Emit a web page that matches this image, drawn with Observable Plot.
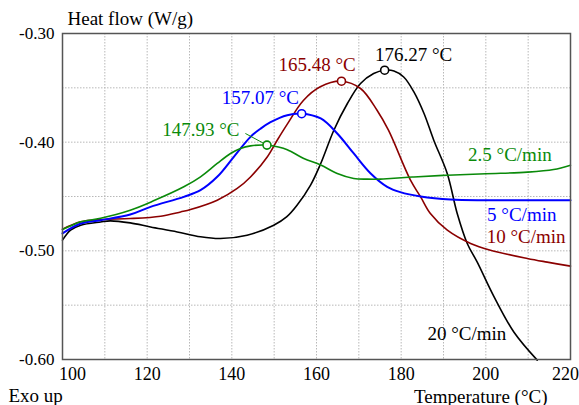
<!DOCTYPE html>
<html>
<head>
<meta charset="utf-8">
<script src="https://cdn.jsdelivr.net/npm/d3@7"></script>
<script src="https://cdn.jsdelivr.net/npm/@observablehq/plot@0.6"></script>
<style>
  html, body { margin: 0; padding: 0; background: white; }
</style>
</head>
<body>
<div id="chart"></div>
<script>
// ---- Data ----
const rateLabels = ["2.5 °C/min", "5 °C/min", "10 °C/min", "20 °C/min"];

const T_25 = [100, 102, 104.3, 109, 116, 121.5, 128.66, 132.6, 136.55, 139.69, 142.05, 144.41, 148.3, 151, 153.1, 157, 161, 164.9, 168.8, 172, 175.1, 177.5, 183, 190.9, 200, 209.8, 216, 220];
const V_25 = [-0.4804, -0.477, -0.4733, -0.470, -0.4626, -0.454, -0.4411, -0.4319, -0.4196, -0.4104, -0.4058, -0.4034, -0.4027, -0.4045, -0.407, -0.415, -0.421, -0.4288, -0.4334, -0.434, -0.434, -0.4334, -0.432, -0.4304, -0.429, -0.4276, -0.4252, -0.4212];

const T_5 = [100, 104.3, 109, 116, 120.79, 128.66, 132.6, 136.55, 140.47, 144.41, 146.78, 149.14, 153.09, 156.5, 161, 164.9, 168.8, 172.8, 176.7, 179.8, 184.6, 191.7, 200, 210, 220];
const V_5 = [-0.484, -0.4749, -0.4718, -0.4666, -0.4595, -0.4503, -0.4442, -0.4319, -0.4135, -0.3951, -0.3876, -0.3816, -0.3752, -0.3738, -0.3782, -0.392, -0.4104, -0.4288, -0.4411, -0.446, -0.450, -0.4528, -0.4534, -0.4534, -0.4534];

const T_10 = [100, 104.3, 109, 116, 123.2, 127.9, 130.24, 136.55, 141.27, 144.41, 148.36, 150.72, 153.1, 156.9, 160.9, 165.9, 170.4, 174.3, 177, 182.2, 184.6, 186.9, 190.9, 196.4, 201.1, 209.8, 214.5, 220];
const V_10 = [-0.480, -0.4733, -0.4712, -0.4703, -0.4681, -0.4642, -0.462, -0.4534, -0.4426, -0.432, -0.4136, -0.3982, -0.3834, -0.3616, -0.349, -0.3439, -0.3506, -0.3706, -0.389, -0.435, -0.4504, -0.4657, -0.481, -0.4932, -0.4994, -0.507, -0.5104, -0.5141];

const T_20 = [100, 101.9, 104.3, 109, 111.3, 116, 120.8, 127.1, 132.6, 137.3, 143.6, 149.9, 153, 155.4, 158.6, 161, 164.1, 167.3, 170.4, 173.5, 176.1, 178.3, 180.6, 183, 185.4, 187.7, 190.88, 193.24, 195.61, 197.97, 201.89, 206.61, 212.14];
const V_20 = [-0.4902, -0.481, -0.4764, -0.4734, -0.4724, -0.4743, -0.478, -0.4826, -0.4871, -0.4887, -0.4856, -0.4764, -0.4685, -0.458, -0.4395, -0.4196, -0.389, -0.3644, -0.346, -0.3368, -0.3338, -0.3345, -0.34, -0.3537, -0.3736, -0.3982, -0.4288, -0.4656, -0.4932, -0.5104, -0.5419, -0.5747, -0.6006];

// Peak annotations
const peakT = [148.3, 156.5, 165.9, 176.1];
const peakV = [-0.4027, -0.3738, -0.3439, -0.3338];
const peakLabels = ["147.93 °C", "157.07 °C", "165.48 °C", "176.27 °C"];
// label anchor points (data units)
const peakLabelT = [123.55, 137.6, 151.0, 173.8];
const peakLabelV = [-0.3945, -0.3651, -0.3347, -0.3255];
const rateLabelT = [195.8, 200.3, 200.2, 186.2];
const rateLabelV = [-0.4172, -0.4724, -0.4927, -0.5822];

// Ticks
const xTicks = [100, 120, 140, 160, 180, 200, 220];
const yTicks = [-0.30, -0.40, -0.50, -0.60];
const xGrid = [110, 120, 130, 140, 150, 160, 170, 180, 190, 200, 210];
const yGrid = [-0.35, -0.40, -0.45, -0.50, -0.55];

const colors = ["#0a8a0a", "#0000ff", "#8b0000", "#000000"];

// ---- Build tables ----
const seriesT = [T_25, T_5, T_10, T_20];
const seriesV = [V_25, V_5, V_10, V_20];
const tables = seriesT.map((T, s) => T.map((t, i) => ({t, v: seriesV[s][i]})));
const peaks = peakT.map((t, i) => ({t, v: peakV[i], label: peakLabels[i], lt: peakLabelT[i], lv: peakLabelV[i], c: colors[i]}));
const rates = rateLabels.map((label, i) => ({label, t: rateLabelT[i], v: rateLabelV[i], c: colors[i]}));

const order = [3, 2, 1, 0];

const chart = Plot.plot({
  width: 579,
  height: 405,
  marginLeft: 62,
  marginRight: 9,
  marginTop: 33,
  marginBottom: 46,
  style: {fontFamily: "'Liberation Serif', 'Times New Roman', serif", fontSize: "19px", background: "white", overflow: "visible"},
  x: {domain: [100, 220]},
  y: {domain: [-0.60, -0.30]},
  marks: [
    Plot.gridX(xGrid, {stroke: "#b8b8b8", strokeOpacity: 1, strokeDasharray: "1.5,1.5"}),
    Plot.gridY(yGrid, {stroke: "#b8b8b8", strokeOpacity: 1, strokeDasharray: "1.5,1.5"}),
    Plot.axisY(yTicks, {tickSize: 0, tickPadding: 8, fontSize: 17, tickFormat: d => d.toFixed(2), label: null, fill: "black"}),
    Plot.axisX(xTicks.slice(1, -1), {tickSize: 0, tickPadding: 8, fontSize: 18, label: null, fill: "black"}),
    Plot.axisX([xTicks[0]], {tickSize: 0, tickPadding: 8, fontSize: 18, label: null, dx: 10, fill: "black"}),
    Plot.axisX([xTicks[xTicks.length - 1]], {tickSize: 0, tickPadding: 8, fontSize: 18, label: null, dx: -5, fill: "black"}),
    ...order.map(s => Plot.line(tables[s], {x: "t", y: "v", stroke: colors[s], strokeWidth: s === 1 ? 2 : 1.6, curve: "catmull-rom"})),
    Plot.link([peaks[0]], {x1: d => d.t - 5.1, y1: d => d.v + 0.0107, x2: "t", y2: "v", stroke: d => d.c, strokeWidth: 1}),
    Plot.dot(peaks, {x: "t", y: "v", r: 4, fill: "white", stroke: d => d.c, strokeWidth: 1.6}),
    Plot.text(peaks, {x: "lt", y: "lv", text: "label", fill: d => d.c, textAnchor: "start", lineAnchor: "bottom"}),
    Plot.text(rates, {x: "t", y: "v", text: "label", fill: d => d.c, textAnchor: "start", lineAnchor: "bottom"}),
    Plot.text(["Heat flow (W/g)"], {frameAnchor: "top-left", dx: 5, dy: -9, textAnchor: "start", lineAnchor: "bottom"}),
    Plot.text(["Temperature (°C)"], {frameAnchor: "bottom-right", dx: -23, dy: 43, textAnchor: "end", lineAnchor: "bottom"}),
    Plot.text(["Exo up"], {frameAnchor: "bottom-left", dx: -54, dy: 42, textAnchor: "start", lineAnchor: "bottom"}),
    Plot.frame({stroke: "#555", strokeWidth: 1.5})
  ]
});
document.getElementById("chart").appendChild(chart);
</script>
</body>
</html>
